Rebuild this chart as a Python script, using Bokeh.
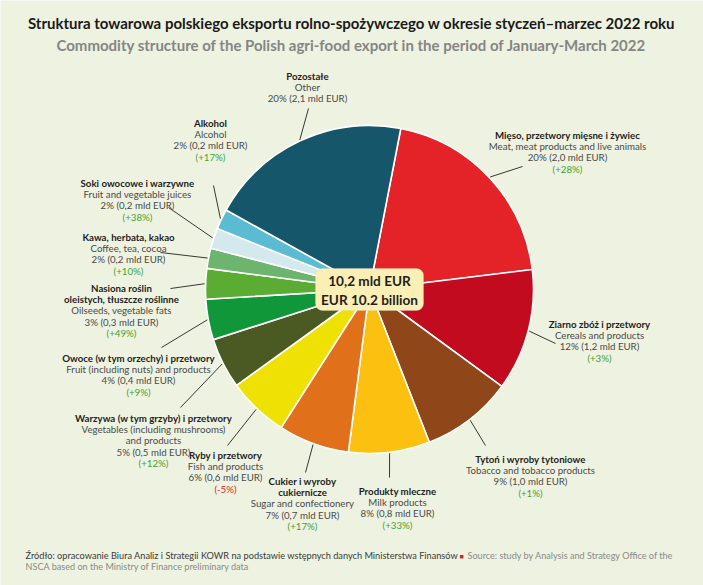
import math
from bokeh.plotting import figure
from bokeh.models import ColumnDataSource, BoxAnnotation, Range1d
from bokeh.embed import file_html
from bokeh.resources import INLINE
from bokeh.core.properties import value

W, H = 703, 585

# ---------------- data ----------------
names_pl = [
    "Mięso, przetwory mięsne i żywiec",
    "Ziarno zbóż i przetwory",
    "Tytoń i wyroby tytoniowe",
    "Produkty mleczne",
    "Cukier i wyroby\ncukiernicze",
    "Ryby i przetwory",
    "Warzywa (w tym grzyby) i przetwory",
    "Owoce (w tym orzechy) i przetwory",
    "Nasiona roślin\noleistych, tłuszcze roślinne",
    "Kawa, herbata, kakao",
    "Soki owocowe i warzywne",
    "Alkohol",
    "Pozostałe",
]
names_en = [
    "Meat, meat products and live animals",
    "Cereals and products",
    "Tobacco and tobacco products",
    "Milk products",
    "Sugar and confectionery",
    "Fish and products",
    "Vegetables (including mushrooms)\nand products",
    "Fruit (including nuts) and products",
    "Oilseeds, vegetable fats",
    "Coffee, tea, cocoa",
    "Fruit and vegetable juices",
    "Alcohol",
    "Other",
]
shares = [20, 12, 9, 8, 7, 6, 5, 4, 3, 2, 2, 2, 20]
values_bn = [2.0, 1.2, 1.0, 0.8, 0.7, 0.6, 0.5, 0.4, 0.3, 0.2, 0.2, 0.2, 2.1]
changes = ["+28%", "+3%", "+1%", "+33%", "+17%", "-5%", "+12%", "+9%", "+49%", "+10%", "+38%", "+17%", ""]
colors = ["#e32328", "#c30b1f", "#8f4618", "#fcc010", "#e0701a", "#f0e105", "#4a5a22",
          "#0f973a", "#5aac33", "#6db46f", "#d3e9ee", "#5bbbd3", "#16566a"]
total_pl = "10,2 mld EUR"
total_en = "EUR 10.2 billion"

title_pl = "Struktura towarowa polskiego eksportu rolno-spożywczego w okresie styczeń–marzec 2022 roku"
title_en = "Commodity structure of the Polish agri-food export in the period of January-March 2022"
source_pl = "Źródło: opracowanie Biura Analiz i Strategii KOWR na podstawie wstępnych danych Ministerstwa Finansów"
source_en1 = "Source: study by Analysis and Strategy Office of the"
source_en2 = "NSCA based on the Ministry of Finance preliminary data"

# ---------------- layout (pixel positions) ----------------
label_pos = [(567, 134), (599, 323), (530, 458), (397, 490), (302, 480), (225, 454), (153, 417),
             (138, 357), (121, 287), (128, 236), (137, 182), (210, 122), (307, 75)]
leader_out = [(522, 166), (555, 343), (485, 445), (389, 477), (305, 472), (227, 445), (180, 407),
              (161, 347), (170, 288), (160, 252), (168, 207), (213, 185), (308, 108)]
CX, CY, R = 369, 289, 164
START_CW = 11.0
LS = 11.4

BG = "#eef2e0"
FONT = "Lato"

def Y(py):
    return H - py

p = figure(width=W, height=H, x_range=Range1d(0, W), y_range=Range1d(0, H),
           output_backend="svg", toolbar_location=None, min_border=0,
           x_axis_type=None, y_axis_type=None,
           background_fill_color=BG, border_fill_color=BG, outline_line_color=None)
p.grid.visible = False

# ---------------- pie ----------------
total = float(sum(shares))
starts, ends, mids = [], [], []
cum = 0.0
for s in shares:
    a0 = START_CW + 360.0 * cum / total
    cum += s
    a1 = START_CW + 360.0 * cum / total
    starts.append(math.radians(90 - a0))
    ends.append(math.radians(90 - a1))
    mids.append((a0 + a1) / 2)

src = ColumnDataSource(dict(x=[CX] * len(shares), y=[Y(CY)] * len(shares),
                            start=starts, end=ends, color=colors))
p.wedge(x="x", y="y", radius=R, start_angle="start", end_angle="end", direction="clock",
        fill_color="color", line_color="white", line_width=1.6, source=src)

# leader lines
x0s, y0s, x1s, y1s = [], [], [], []
for (ox, oy), m in zip(leader_out, mids):
    ix = CX + (R + 1) * math.sin(math.radians(m))
    iy = CY - (R + 1) * math.cos(math.radians(m))
    x0s.append(ox); y0s.append(Y(oy)); x1s.append(ix); y1s.append(Y(iy))
p.segment(x0=x0s, y0=y0s, x1=x1s, y1=y1s, line_color="#222222", line_width=0.9)

# ---------------- centre box ----------------
p.add_layout(BoxAnnotation(left=315, right=423, bottom=Y(310), top=Y(268),
                           fill_color="#fcefb5", fill_alpha=1.0, line_color="#d8d6c4",
                           line_width=1, border_radius=7, level="glyph"))
p.text(x=[369, 369], y=[Y(280), Y(299)], text=[total_pl, total_en], text_font=value(FONT),
       text_font_size="13.6px", text_font_style="bold", text_color="#1e1e1e",
       text_align="center", text_baseline="middle", level="annotation")

# ---------------- labels ----------------
rows = {"bold": ([], [], []), "norm": ([], [], []), "green": ([], [], []), "red": ([], [], [])}
def add(kind, x, y, t):
    rows[kind][0].append(x); rows[kind][1].append(Y(y)); rows[kind][2].append(t)

for i in range(len(shares)):
    lx, ly = label_pos[i]
    y = ly
    for line in names_pl[i].split("\n"):
        add("bold", lx, y, line); y += LS
    for line in names_en[i].split("\n"):
        add("norm", lx, y, line); y += LS
    add("norm", lx, y, "%d%% (%s mld EUR)" % (shares[i], ("%.1f" % values_bn[i]).replace(".", ",")))
    y += LS
    if changes[i]:
        add("red" if changes[i].startswith("-") else "green", lx, y, "(" + changes[i] + ")")

styles = {"bold": ("#1e1e1e", "bold"), "norm": ("#4a4a4a", "normal"),
          "green": ("#3fa23a", "normal"), "red": ("#d8262c", "normal")}
for k, (xs, ys, ts) in rows.items():
    col, st = styles[k]
    p.text(x=xs, y=ys, text=ts, text_font=value(FONT), text_font_size="9.7px",
           text_font_style=st, text_color=col, text_align="center", text_baseline="middle")

# ---------------- titles ----------------
p.text(x=[351], y=[Y(22)], text=[title_pl], text_font=value(FONT), text_font_size="15px",
       text_font_style="bold", text_color="#1a1a1a", text_align="center", text_baseline="middle")
p.text(x=[351], y=[Y(44)], text=[title_en], text_font=value(FONT), text_font_size="15px",
       text_font_style="bold", text_color="#858585", text_align="center", text_baseline="middle")

# ---------------- footer ----------------
p.text(x=[25], y=[Y(555)], text=[source_pl], text_font=value(FONT), text_font_size="9.2px",
       text_color="#3a3a3a", text_align="left", text_baseline="middle")
p.text(x=[461], y=[Y(555)], text=["■"], text_font=value(FONT), text_font_size="7px",
       text_color="#d0202a", text_align="center", text_baseline="middle")
p.text(x=[467], y=[Y(555)], text=[source_en1], text_font=value(FONT), text_font_size="9.1px",
       text_color="#8a8a8a", text_align="left", text_baseline="middle")
p.text(x=[25], y=[Y(566)], text=[source_en2], text_font=value(FONT), text_font_size="9.1px",
       text_color="#8a8a8a", text_align="left", text_baseline="middle")

open("out.html", "w").write(file_html(p, INLINE))
